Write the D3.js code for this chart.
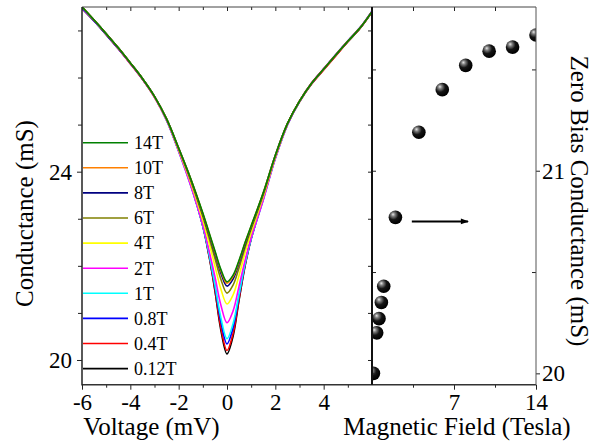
<!DOCTYPE html>
<html><head><meta charset="utf-8">
<script src="https://cdn.jsdelivr.net/npm/d3@7"></script>
<style>
body{margin:0;background:#fff;}
text{font-family:"Liberation Serif","Times New Roman",serif;fill:#000;}
</style>
</head><body>
<svg id="chart" width="607" height="446"></svg>
<script>
// ---------- DATA ----------
const voltage = [-6,-5.5,-5,-4.5,-4,-3.5,-3,-2.5,-2,-1.5,-1,-0.75,-0.5,-0.25,0,0.25,0.5,0.75,1,1.5,2,2.5,3,3.5,4,4.5,5,5.5,6];

const g012T = [27.48,27.20,26.92,26.62,26.30,25.97,25.59,25.10,24.45,23.73,22.84,22.22,21.47,20.62,20.13,20.50,21.27,22.00,22.57,23.43,24.30,25.00,25.49,25.87,26.17,26.47,26.76,27.04,27.39];
const g04T  = [27.46,27.21,26.91,26.61,26.29,25.96,25.58,25.10,24.45,23.73,22.85,22.24,21.50,20.68,20.20,20.56,21.30,22.02,22.58,23.43,24.30,25.00,25.48,25.86,26.16,26.46,26.76,27.04,27.40];
const g08T  = [27.47,27.20,26.91,26.61,26.30,25.97,25.59,25.10,24.44,23.72,22.85,22.27,21.57,20.80,20.34,20.68,21.37,22.05,22.58,23.42,24.29,25.00,25.49,25.87,26.18,26.48,26.77,27.05,27.41];
const g1T   = [27.49,27.22,26.93,26.63,26.31,25.98,25.59,25.09,24.43,23.70,22.84,22.27,21.60,20.89,20.45,20.77,21.40,22.05,22.57,23.40,24.28,24.99,25.49,25.88,26.18,26.49,26.78,27.06,27.41];
const g2T   = [27.49,27.21,26.93,26.62,26.30,25.97,25.58,25.09,24.43,23.70,22.86,22.34,21.77,21.16,20.79,21.04,21.57,22.12,22.59,23.40,24.28,24.99,25.50,25.89,26.19,26.49,26.78,27.06,27.41];
const g4T   = [27.50,27.22,26.93,26.63,26.31,25.98,25.59,25.11,24.46,23.77,22.97,22.50,22.00,21.50,21.19,21.38,21.80,22.28,22.70,23.47,24.31,25.01,25.50,25.88,26.18,26.48,26.77,27.05,27.40];
const g6T   = [27.50,27.22,26.93,26.63,26.31,25.98,25.60,25.12,24.48,23.81,23.05,22.61,22.16,21.71,21.42,21.59,21.96,22.39,22.78,23.51,24.33,25.02,25.50,25.88,26.18,26.48,26.77,27.05,27.40];
const g8T   = [27.50,27.22,26.93,26.63,26.31,25.98,25.60,25.12,24.50,23.84,23.09,22.68,22.26,21.84,21.57,21.72,22.06,22.46,22.82,23.54,24.35,25.02,25.50,25.88,26.18,26.48,26.77,27.05,27.40];
const g10T  = [27.50,27.22,26.93,26.63,26.31,25.98,25.60,25.12,24.50,23.85,23.11,22.71,22.30,21.89,21.63,21.77,22.10,22.49,22.84,23.55,24.35,25.02,25.50,25.88,26.18,26.48,26.77,27.05,27.40];
const g14T  = [27.50,27.22,26.93,26.63,26.31,25.98,25.60,25.12,24.50,23.85,23.12,22.72,22.32,21.92,21.66,21.80,22.12,22.50,22.85,23.55,24.35,25.02,25.50,25.88,26.18,26.48,26.77,27.05,27.40];

const legendLabels = ["14T","10T","8T","6T","4T","2T","1T","0.8T","0.4T","0.12T"];
const legendColors = ["#008000","#ff8000","#000080","#808000","#ffff00","#ff00ff","#00ffff","#0000ff","#ff0000","#000000"];
const seriesValues = [g14T,g10T,g8T,g6T,g4T,g2T,g1T,g08T,g04T,g012T];

const zbField = [0.12,0.4,0.6,0.8,1,2,4,6,8,10,12,14];
const zbValue = [20.00,20.20,20.27,20.35,20.43,20.77,21.19,21.40,21.52,21.59,21.61,21.67];

const voltTicks = [-6,-4,-2,0,2,4];
const voltMinor = [-5,-3,-1,1,3,5];
const condTicks = [20,24];
const condMinor = [21,22,23,25,26,27];
const fieldTicks = [7,14];
const fieldMinor = [3.5,10.5];
const zbTicks = [20,21];
const zbMinor = [20.5,21.5];

// ---------- LAYOUT ----------
const svg = d3.select("#chart");
const yTop = 7, yBot = 384.7;
const lx0 = 82, lx1 = 372, rx1 = 536;

const xV = d3.scaleLinear().domain([-6,6]).range([lx0,lx1]);
const yG = d3.scaleLinear().domain([19.475,27.498]).range([yBot,yTop]);
const xB = d3.scaleLinear().domain([0,14]).range([lx1,rx1]);
const yZ = d3.scaleLinear().domain([19.944,21.808]).range([yBot,yTop]);

const defs = svg.append("defs");
defs.append("clipPath").attr("id","clipL").append("rect")
  .attr("x",lx0).attr("y",yTop).attr("width",lx1-lx0).attr("height",yBot-yTop);
defs.append("clipPath").attr("id","clipR").append("rect")
  .attr("x",lx1+1).attr("y",yTop).attr("width",rx1-lx1-1).attr("height",yBot-yTop);
const grad = defs.append("radialGradient").attr("id","ball")
  .attr("cx","38%").attr("cy","35%").attr("r","65%").attr("fx","32%").attr("fy","28%");
grad.append("stop").attr("offset","0%").attr("stop-color","#e8e8e8");
grad.append("stop").attr("offset","22%").attr("stop-color","#808080");
grad.append("stop").attr("offset","55%").attr("stop-color","#151515");
grad.append("stop").attr("offset","100%").attr("stop-color","#000");
defs.append("marker").attr("id","arrow").attr("viewBox","0 0 10 10")
  .attr("refX",9).attr("refY",5).attr("markerWidth",6).attr("markerHeight",4)
  .attr("markerUnits","strokeWidth").attr("orient","auto")
  .append("path").attr("d","M0,1.5 L10,5 L0,8.5 z").attr("fill","#000");

// ---------- LEFT PANEL CURVES ----------
const line = d3.line().x((d,i)=>xV(voltage[i])).y(d=>yG(d)).curve(d3.curveCatmullRom.alpha(0.5));
const gL = svg.append("g").attr("clip-path","url(#clipL)");
for (let k = seriesValues.length-1; k >= 0; k--) {
  gL.append("path").datum(seriesValues[k]).attr("d",line)
    .attr("fill","none").attr("stroke",legendColors[k]).attr("stroke-width",1.6);
}

// legend
const lg = svg.append("g");
legendLabels.forEach((lab,i)=>{
  const y = 142.7 + i*25.1;
  lg.append("line").attr("x1",83).attr("x2",128).attr("y1",y).attr("y2",y)
    .attr("stroke",legendColors[i]).attr("stroke-width",1.6);
  lg.append("text").attr("x",134).attr("y",y).attr("dy","0.35em")
    .attr("font-size",18).text(lab);
});

// ---------- RIGHT PANEL ----------
const gR = svg.append("g").attr("clip-path","url(#clipR)");
gR.selectAll("circle").data(zbField).join("circle")
  .attr("cx",d=>xB(d)).attr("cy",(d,i)=>yZ(zbValue[i])).attr("r",6.8)
  .attr("fill","url(#ball)");

// arrow
svg.append("line").attr("x1",xB(3.4)).attr("x2",xB(8.2)).attr("y1",yZ(20.75)).attr("y2",yZ(20.75))
  .attr("stroke","#000").attr("stroke-width",2).attr("marker-end","url(#arrow)");

// ---------- AXES ----------
const axCol = "#222";
function styleAxis(g){
  g.select(".domain").remove();
  g.selectAll(".tick line").attr("stroke",axCol).attr("stroke-width",1);
  g.selectAll(".tick text").attr("font-size",23).attr("fill","#000")
    .style("font-family",'"Liberation Serif","Times New Roman",serif');
}
// bottom left
svg.append("g").attr("transform",`translate(0,${yBot})`)
  .call(d3.axisBottom(xV).tickValues(voltTicks).tickSize(5).tickPadding(4).tickFormat(d=>String(d)))
  .call(styleAxis);
svg.append("g").attr("transform",`translate(0,${yBot})`)
  .call(d3.axisBottom(xV).tickValues(voltMinor).tickSize(3).tickFormat(""))
  .call(styleAxis);
// bottom right
svg.append("g").attr("transform",`translate(0,${yBot})`)
  .call(d3.axisBottom(xB).tickValues(fieldTicks).tickSize(5).tickPadding(4).tickFormat(d=>String(d)))
  .call(styleAxis);
svg.append("g").attr("transform",`translate(0,${yBot})`)
  .call(d3.axisBottom(xB).tickValues(fieldMinor).tickSize(3).tickFormat(""))
  .call(styleAxis);
// top inward ticks
svg.append("g").attr("transform",`translate(0,${yTop})`)
  .call(d3.axisTop(xV).tickValues(voltTicks.slice(1)).tickSize(-4).tickFormat(""))
  .call(styleAxis);
svg.append("g").attr("transform",`translate(0,${yTop})`)
  .call(d3.axisTop(xV).tickValues(voltMinor).tickSize(-3).tickFormat(""))
  .call(styleAxis);
svg.append("g").attr("transform",`translate(0,${yTop})`)
  .call(d3.axisTop(xB).tickValues(fieldTicks.slice(0,1).concat(fieldMinor)).tickSize(-4).tickFormat(""))
  .call(styleAxis);
// left axis
svg.append("g").attr("transform",`translate(${lx0},0)`)
  .call(d3.axisLeft(yG).tickValues(condTicks).tickSize(5).tickPadding(5).tickFormat(d=>String(d)))
  .call(styleAxis);
svg.append("g").attr("transform",`translate(${lx0},0)`)
  .call(d3.axisLeft(yG).tickValues(condMinor).tickSize(4).tickFormat(""))
  .call(styleAxis);
// mirror ticks on divider (left panel side, inward)
svg.append("g").attr("transform",`translate(${lx1},0)`)
  .call(d3.axisRight(yG).tickValues(condTicks.concat(condMinor)).tickSize(-4).tickFormat(""))
  .call(styleAxis);
// right panel: inward ticks on divider
svg.append("g").attr("transform",`translate(${lx1},0)`)
  .call(d3.axisRight(yZ).tickValues(zbTicks.concat(zbMinor)).tickSize(4).tickFormat(""))
  .call(styleAxis);
// right axis
svg.append("g").attr("transform",`translate(${rx1},0)`)
  .call(d3.axisRight(yZ).tickValues(zbTicks).tickSize(4).tickPadding(2).tickFormat(d=>String(d)))
  .call(styleAxis);
svg.append("g").attr("transform",`translate(${rx1},0)`)
  .call(d3.axisLeft(yZ).tickValues(zbMinor).tickSize(4).tickFormat(""))
  .call(styleAxis);

// frame lines
svg.append("line").attr("x1",lx0).attr("x2",rx1).attr("y1",yTop).attr("y2",yTop).attr("stroke","#444").attr("stroke-width",1);
svg.append("line").attr("x1",lx0).attr("x2",rx1).attr("y1",yBot).attr("y2",yBot).attr("stroke","#333").attr("stroke-width",1.5);
svg.append("line").attr("x1",lx0).attr("x2",lx0).attr("y1",yTop).attr("y2",yBot+0.75).attr("stroke","#222").attr("stroke-width",1.5);
svg.append("line").attr("x1",lx1).attr("x2",lx1).attr("y1",yTop).attr("y2",yBot).attr("stroke","#111").attr("stroke-width",2);
svg.append("line").attr("x1",rx1).attr("x2",rx1).attr("y1",yTop).attr("y2",yBot).attr("stroke","#555").attr("stroke-width",1);

// axis titles
svg.append("text").attr("x",151.5).attr("y",435).attr("text-anchor","middle").attr("font-size",25).text("Voltage (mV)");
svg.append("text").attr("x",457).attr("y",435).attr("text-anchor","middle").attr("font-size",25).text("Magnetic Field (Tesla)");
svg.append("text").attr("transform","translate(33,213.5) rotate(-90)").attr("text-anchor","middle").attr("font-size",25).text("Conductance (mS)");
svg.append("text").attr("transform","translate(571,201) rotate(90)").attr("text-anchor","middle").attr("font-size",25).text("Zero Bias Conductance (mS)");
</script>
</body></html>
